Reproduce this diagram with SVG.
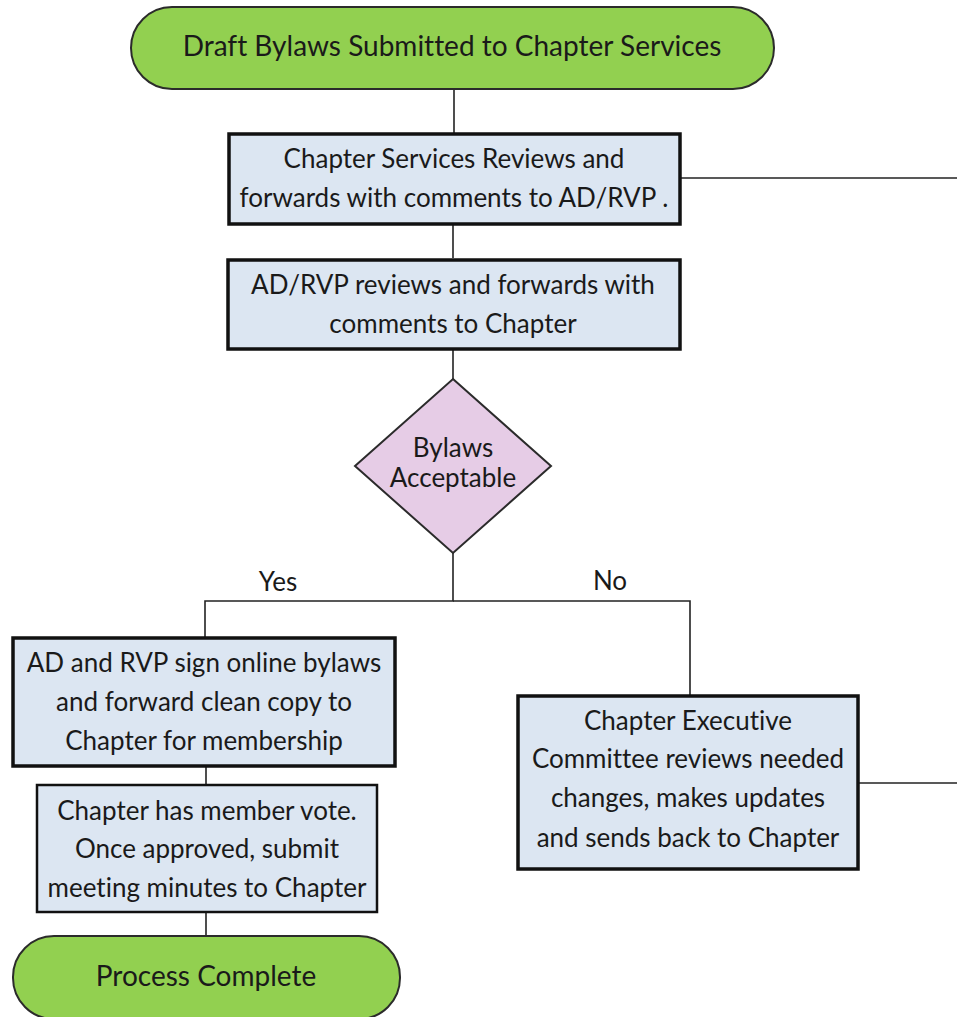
<svg xmlns="http://www.w3.org/2000/svg" width="957" height="1017" viewBox="0 0 957 1017">
<style>
text{font-family:"Lato","Open Sans","DejaVu Sans",sans-serif;font-size:26px;fill:#1a1a1a;text-anchor:middle;font-variant-ligatures:none}
.big{font-size:28px}
.term{fill:#92d050;stroke:#2b2b2b;stroke-width:2}
.box{fill:#dce6f2;stroke:#111;stroke-width:3.5}
.box2{fill:#dce6f2;stroke:#111;stroke-width:2.5}
.dec{fill:#e6cce6;stroke:#2b2b2b;stroke-width:2}
.conn{fill:none;stroke:#222;stroke-width:1.6}
</style>
<rect width="957" height="1017" fill="#fff"/>
<g id="connectors">
<line class="conn" x1="454" y1="89" x2="454" y2="133"/>
<line class="conn" x1="681" y1="178" x2="957" y2="178"/>
<line class="conn" x1="453" y1="225" x2="453" y2="258"/>
<line class="conn" x1="453" y1="350" x2="453" y2="379"/>
<polyline class="conn" points="453,553 453,601 205,601 205,637"/>
<polyline class="conn" points="453,601 690,601 690,695"/>
<line class="conn" x1="206" y1="767" x2="206" y2="784"/>
<line class="conn" x1="206" y1="913" x2="206" y2="935"/>
<line class="conn" x1="859" y1="783" x2="957" y2="783"/>
<text x="278" y="591">Yes</text>
<text x="610" y="590">No</text>
</g>
<g id="start">
<rect class="term" x="131" y="7" width="643" height="82" rx="41" ry="41"/>
<text class="big" x="452" y="56">Draft Bylaws Submitted to Chapter Services</text>
</g>
<g id="cs-review">
<rect class="box" x="229" y="134" width="451" height="90"/>
<text x="454" y="168">Chapter Services Reviews and</text>
<text x="454" y="207">forwards with comments to AD/RVP .</text>
</g>
<g id="adrvp-review">
<rect class="box" x="228" y="260" width="452" height="89"/>
<text x="453" y="294">AD/RVP reviews and forwards with</text>
<text x="453" y="333">comments to Chapter</text>
</g>
<g id="decision">
<polygon class="dec" points="453,379 551,466 453,553 355,466"/>
<text x="453" y="457">Bylaws</text>
<text x="453" y="487">Acceptable</text>
</g>
<g id="sign">
<rect class="box" x="13" y="638" width="382" height="128"/>
<text x="204" y="672">AD and RVP sign online bylaws</text>
<text x="204" y="711">and forward clean copy to</text>
<text x="204" y="750">Chapter for membership</text>
</g>
<g id="vote">
<rect class="box2" x="37" y="785" width="340" height="127"/>
<text x="207" y="820">Chapter has member vote.</text>
<text x="207" y="858">Once approved, submit</text>
<text x="207" y="897">meeting minutes to Chapter</text>
</g>
<g id="end">
<rect class="term" x="13" y="936" width="387" height="83" rx="41" ry="41"/>
<text class="big" x="206" y="986">Process Complete</text>
</g>
<g id="exec">
<rect class="box" x="518" y="696" width="340" height="173"/>
<text x="688" y="730">Chapter Executive</text>
<text x="688" y="768">Committee reviews needed</text>
<text x="688" y="807">changes, makes updates</text>
<text x="688" y="847">and sends back to Chapter</text>
</g>
</svg>
